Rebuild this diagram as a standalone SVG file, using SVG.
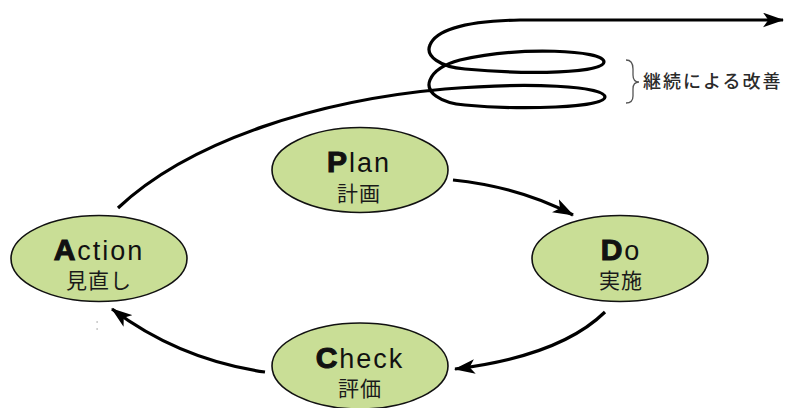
<svg xmlns="http://www.w3.org/2000/svg" width="785" height="408" viewBox="0 0 785 408">
<style>
.node ellipse{fill:#c9de96;stroke:#111;stroke-width:1.6}
.t1{font-family:"Liberation Sans",Arial,sans-serif;font-size:27px;letter-spacing:2px;fill:#111;text-anchor:middle}
.b{font-weight:bold;font-size:30px;stroke:#111;stroke-width:1.1px}
.t2{font-family:"Noto Sans CJK JP","Noto Sans CJK SC",sans-serif;font-size:21px;letter-spacing:1px;fill:#1a1a1a;text-anchor:middle}
.conn path{fill:none;stroke:#000;stroke-width:3.2;stroke-linecap:butt}
.note{font-family:"Noto Sans CJK JP","Noto Sans CJK SC",sans-serif;font-size:18px;font-weight:500;letter-spacing:2px;fill:#2a2a2a}
</style>
<defs>
<marker id="ah" viewBox="0 0 20 14" refX="19" refY="7" markerWidth="21" markerHeight="15" markerUnits="userSpaceOnUse" orient="auto">
<path d="M0,0 L20,7 L0,14 L5,7 Z" fill="#000"/>
</marker>
</defs>
<g id="connectors" class="conn">
<path d="M453,180 Q520,187 573,215" marker-end="url(#ah)"/>
<path d="M605,312 Q560,356 455,369" marker-end="url(#ah)"/>
<path d="M265,372 Q180,360 112,309" marker-end="url(#ah)"/>
<path d="M118,208 C190,140 320,100 445,89 C530,82 605,86 605,97 C605,108 520,110 465,105 C440,103 425,92 430,80 C434,70 445,64 460,60 C520,46 604,50 604,62 C604,73 530,75 465,69 C440,67 425,56 430,45 C435,32 460,21 520,20 L783,20" marker-end="url(#ah)"/>
</g>
<g id="brace">
<path d="M626,60 Q633,60 633,69 L633,75 Q633,82 639,82 Q633,82 633,89 L633,96 Q633,103 626,103" fill="none" stroke="#555" stroke-width="1.3"/>
<text class="note" x="643" y="88">継続による改善</text>
</g>
<g id="plan" class="node">
<ellipse cx="360" cy="170" rx="88" ry="42.5"/>
<text class="t1" x="359" y="172"><tspan class="b">P</tspan>lan</text>
<text class="t2" x="359" y="201">計画</text>
</g>
<g id="do" class="node">
<ellipse cx="620" cy="258.5" rx="88" ry="43"/>
<text class="t1" x="621" y="260"><tspan class="b">D</tspan>o</text>
<text class="t2" x="621" y="288">実施</text>
</g>
<g id="check" class="node">
<ellipse cx="360" cy="366" rx="88" ry="43"/>
<text class="t1" x="360" y="368"><tspan class="b">C</tspan>heck</text>
<text class="t2" x="360" y="396">評価</text>
</g>
<g id="action" class="node">
<ellipse cx="99" cy="258.5" rx="88" ry="43"/>
<text class="t1" x="99" y="260"><tspan class="b">A</tspan>ction</text>
<text class="t2" x="99" y="288">見直し</text>
</g>
<g id="specks" fill="#bbb">
<rect x="96.5" y="321" width="1.2" height="2"/>
<rect x="96.5" y="328" width="1.2" height="2"/>
</g>
</svg>
